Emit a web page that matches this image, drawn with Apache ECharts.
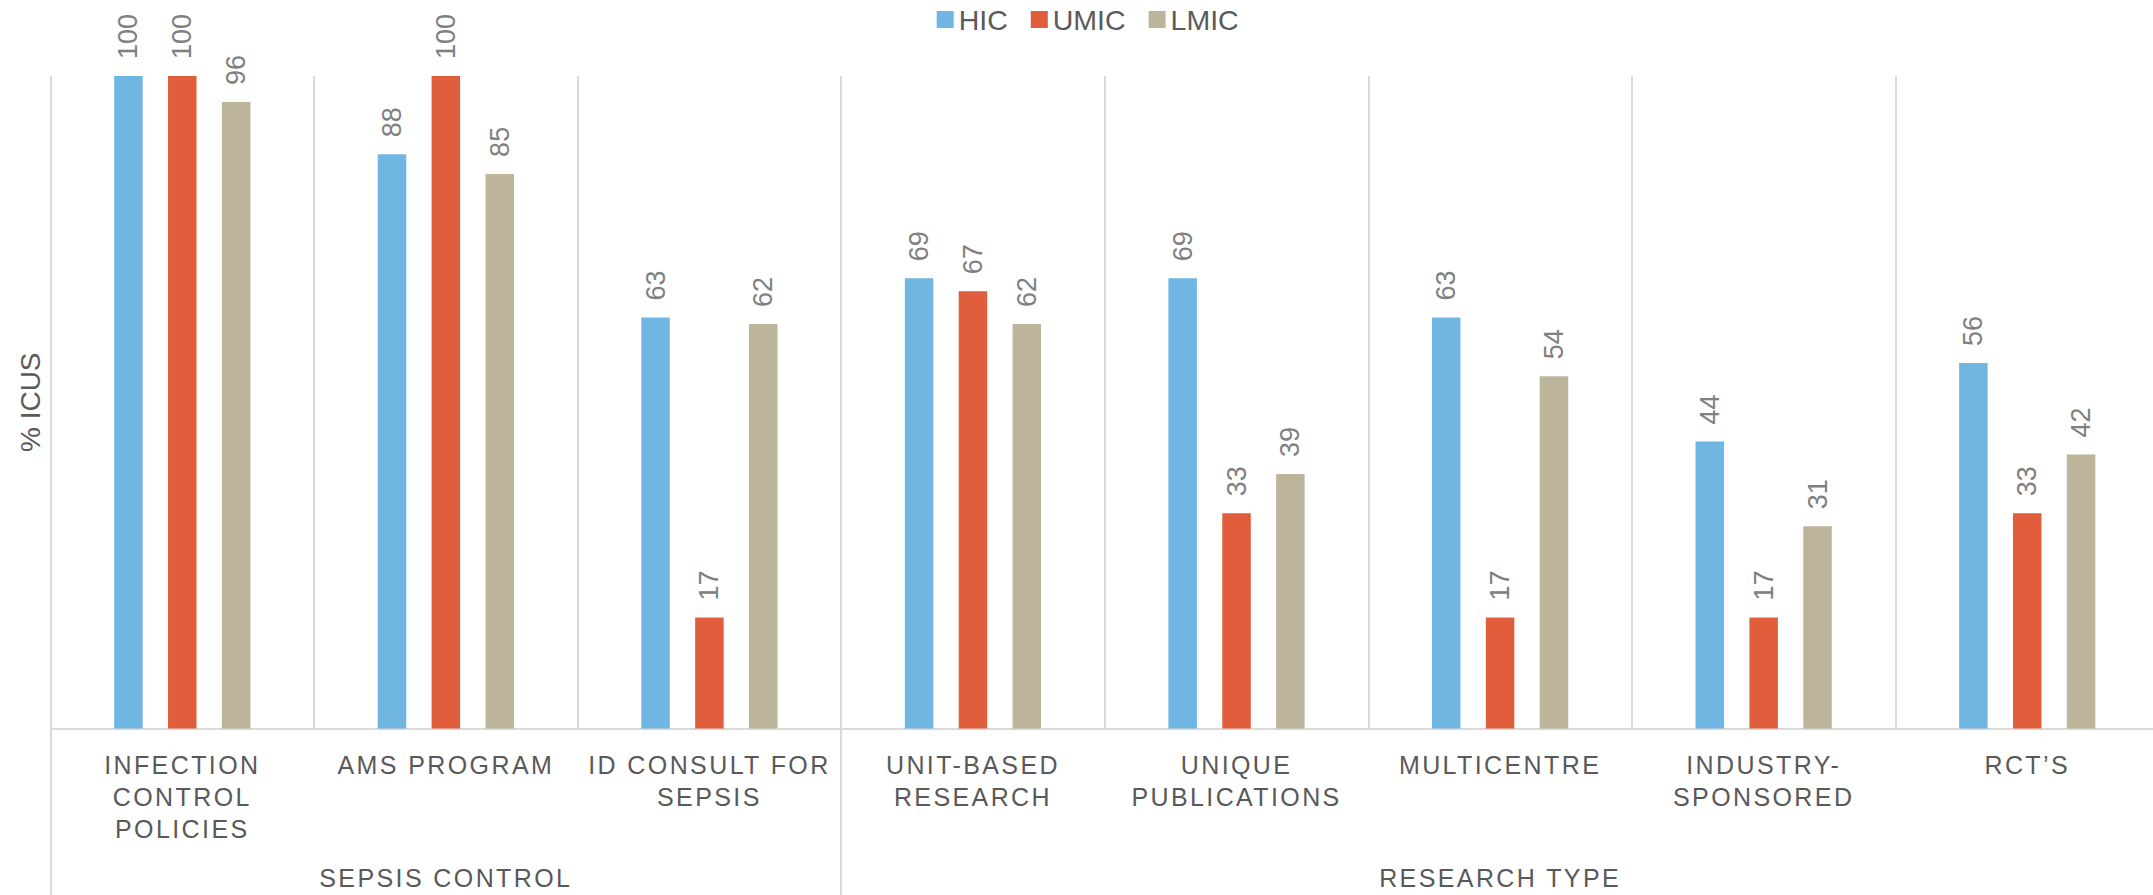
<!DOCTYPE html>
<html>
<head>
<meta charset="utf-8">
<script src="https://cdn.jsdelivr.net/npm/echarts@6/dist/echarts.min.js"></script>
<style>
  html, body { margin: 0; padding: 0; background: #ffffff; }
  #chart { width: 2153px; height: 895px; }
  /* spaced-out capitals for the category and group captions */
  #chart text[fill="#595959"] { letter-spacing: 2.4px; }
</style>
</head>
<body>
<div id="chart"></div>
<script>
// Category captions (line breaks as printed under each bar group)
const categories = [
  'INFECTION\nCONTROL\nPOLICIES',
  'AMS PROGRAM',
  'ID CONSULT FOR\nSEPSIS',
  'UNIT-BASED\nRESEARCH',
  'UNIQUE\nPUBLICATIONS',
  'MULTICENTRE',
  'INDUSTRY-\nSPONSORED',
  'RCT\u2019S'
];

// Outer grouping of the categories
const groupNames = ['SEPSIS CONTROL', 'RESEARCH TYPE'];
const groupSizes = [3, 5];

// Share of ICUs (%) by income level
const seriesNames = ['HIC', 'UMIC', 'LMIC'];
const hic  = [100, 88, 63, 69, 69, 63, 44, 56];
const umic = [100, 100, 17, 67, 33, 17, 17, 33];
const lmic = [96, 85, 62, 62, 39, 54, 31, 42];

const colors = ['#70b6e3', '#e15e3c', '#bdb49c'];
const FONT = "'Liberation Sans', Arial, sans-serif";

// Second category axis: group caption sits on the middle category of each group
const groupAxisData = [];
const groupStarts = [];
let pos = 0;
groupSizes.forEach((n, g) => {
  groupStarts.push(pos);
  for (let i = 0; i < n; i++) {
    groupAxisData.push(i === Math.floor(n / 2) ? groupNames[g] : '');
  }
  pos += n;
});

const values = [hic, umic, lmic];

const chart = echarts.init(document.getElementById('chart'), null, { renderer: 'svg' });

chart.setOption({
  animation: false,
  backgroundColor: '#ffffff',
  textStyle: { fontFamily: FONT },
  color: colors,
  legend: {
    data: seriesNames,
    left: 931.7,
    top: 0,
    itemWidth: 17,
    itemHeight: 17,
    itemGap: 23,
    icon: 'rect',
    textStyle: { fontFamily: FONT, fontSize: 28.5, color: '#5a5a5a' }
  },
  grid: {
    left: 50.5,
    top: 76,
    width: 2108.5,
    height: 652.5,
    outerBoundsMode: 'none',
    containLabel: false
  },
  xAxis: [
    {
      type: 'category',
      data: categories,
      position: 'bottom',
      axisLine: { show: true, lineStyle: { color: '#d9d9d9', width: 2 } },
      axisTick: { show: false },
      splitLine: { show: true, interval: 0, lineStyle: { color: '#d9d9d9', width: 2 } },
      axisLabel: {
        interval: 0,
        margin: 20.5,
        fontFamily: FONT,
        fontSize: 25,
        lineHeight: 32,
        color: '#595959',
        align: 'center'
      }
    },
    {
      type: 'category',
      data: groupAxisData,
      position: 'bottom',
      offset: 0,
      axisLine: { show: false },
      axisTick: {
        show: true,
        interval: (index) => groupStarts.includes(index),
        length: 170,
        lineStyle: { color: '#d9d9d9', width: 2 }
      },
      splitLine: { show: false },
      axisLabel: {
        interval: 0,
        margin: 133,
        fontFamily: FONT,
        fontSize: 25,
        lineHeight: 32,
        color: '#595959'
      }
    }
  ],
  yAxis: {
    type: 'value',
    min: 0,
    max: 100,
    axisLine: { show: false },
    axisTick: { show: false },
    axisLabel: { show: false },
    splitLine: { show: false },
    name: '% ICUS',
    nameLocation: 'middle',
    nameGap: 6,
    nameTextStyle: { fontFamily: FONT, fontSize: 28, color: '#5a5a5a' }
  },
  series: seriesNames.map((name, i) => ({
    name: name,
    type: 'bar',
    xAxisIndex: 0,
    data: values[i],
    barWidth: 28.5,
    barGap: '89%',
    itemStyle: { color: colors[i] },
    label: {
      show: true,
      position: 'top',
      rotate: 90,
      align: 'left',
      verticalAlign: 'middle',
      distance: 17,
      fontFamily: FONT,
      fontSize: 27,
      color: '#808080'
    }
  }))
});
</script>
</body>
</html>
